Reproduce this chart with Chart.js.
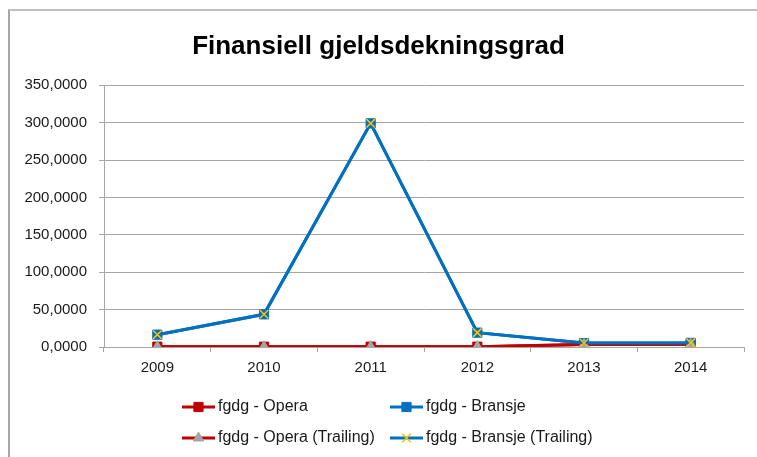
<!DOCTYPE html>
<html>
<head>
<meta charset="utf-8">
<script src="https://cdn.jsdelivr.net/npm/chart.js@4/dist/chart.umd.min.js"></script>
<style>
  html, body { margin: 0; padding: 0; background: #fff; }
  #wrap { position: relative; width: 757px; height: 457px; }
  #frame { position: absolute; left: 8px; top: 9px; width: 760px; height: 460px;
           border-left: 2px solid #a6a6a6; border-top: 2px solid #bfbfbf; }
  canvas { position: absolute; left: 0; top: 0; }
</style>
</head>
<body>
<div id="wrap">
  <div id="frame"></div>
  <canvas id="chart" width="757" height="457"></canvas>
</div>
<script>
let years = ['2009', '2010', '2011', '2012', '2013', '2014'];
let operaValues = [0.4, 0.4, 0.4, 0.4, 3.5, 3.8];
let bransjeValues = [16.5, 43.7, 299, 19.2, 5.3, 5.5];
let operaTrailing = [0.4, 0.4, 0.4, 0.4, 3.5, 3.8];
let bransjeTrailing = [16.5, 43.7, 299, 19.2, 5.3, 5.5];
let yTicks = [0, 50, 100, 150, 200, 250, 300, 350];

const red = '#c00000';
const blue = '#0070c0';
const font = 'Liberation Sans';
const textColor = '#1a1a1a';

// legend drawn on the canvas in two rows, like the original
const legendPlugin = {
  id: 'excelLegend',
  afterDraw(chart) {
    let ctx = chart.ctx;
    let spots = [[182, 407], [390, 407], [182, 438], [390, 438]];
    ctx.save();
    chart.data.datasets.forEach((ds, k) => {
      let x = spots[k][0], y = spots[k][1];
      ctx.strokeStyle = ds.borderColor;
      ctx.lineWidth = 3;
      ctx.beginPath();
      ctx.moveTo(x, y);
      ctx.lineTo(x + 33, y);
      ctx.stroke();
      ctx.fillStyle = ds.pointBackgroundColor;
      ctx.strokeStyle = ds.pointBorderColor;
      ctx.lineWidth = ds.pointBorderWidth;
      Chart.helpers.drawPoint(ctx, {
        pointStyle: ds.pointStyle,
        radius: ds.pointRadius,
        borderWidth: ds.pointBorderWidth,
        rotation: 0
      }, x + 16.5, y);
      ctx.fillStyle = textColor;
      ctx.font = '16px "' + font + '"';
      ctx.textBaseline = 'middle';
      ctx.textAlign = 'left';
      ctx.fillText(ds.label, x + 36, y);
    });
    ctx.restore();
  }
};

new Chart(document.getElementById('chart').getContext('2d'), {
  type: 'line',
  data: {
    labels: years,
    datasets: [
      {
        label: 'fgdg - Opera', data: operaValues, order: 4,
        borderColor: red, borderWidth: 3, tension: 0,
        pointStyle: 'rect', pointRadius: 6.5, pointBorderWidth: 1,
        pointBackgroundColor: red, pointBorderColor: red
      },
      {
        label: 'fgdg - Bransje', data: bransjeValues, order: 3,
        borderColor: blue, borderWidth: 3, tension: 0,
        pointStyle: 'rect', pointRadius: 6.5, pointBorderWidth: 1,
        pointBackgroundColor: blue, pointBorderColor: blue
      },
      {
        label: 'fgdg - Opera (Trailing)', data: operaTrailing, order: 2,
        borderColor: red, borderWidth: 3, tension: 0,
        pointStyle: 'triangle', pointRadius: 6, pointBorderWidth: 1,
        pointBackgroundColor: '#a5a5a5', pointBorderColor: '#a5a5a5'
      },
      {
        label: 'fgdg - Bransje (Trailing)', data: bransjeTrailing, order: 1,
        borderColor: blue, borderWidth: 3, tension: 0,
        pointStyle: 'crossRot', pointRadius: 6, pointBorderWidth: 1.5,
        pointBackgroundColor: '#ffc000', pointBorderColor: '#ffc000'
      }
    ]
  },
  options: {
    responsive: false,
    animation: false,
    layout: { padding: { left: 13, right: 13, top: 0, bottom: 70 } },
    plugins: {
      legend: { display: false },
      tooltip: { enabled: false },
      title: {
        display: true,
        text: 'Finansiell gjeldsdekningsgrad',
        color: '#000',
        font: { family: font, size: 26, weight: 'bold', lineHeight: 1.2 },
        padding: { top: 31, bottom: 23 }
      }
    },
    scales: {
      x: {
        offset: true,
        grid: { offset: true, drawOnChartArea: false, drawTicks: true, tickLength: 5, color: '#a6a6a6' },
        border: { display: true, color: '#a6a6a6' },
        ticks: { color: textColor, font: { family: font, size: 15 }, padding: 7, maxRotation: 0 },
        afterFit: s => { s.height = 40; }
      },
      y: {
        min: 0, max: 350,
        afterBuildTicks: s => { s.ticks = yTicks.map(v => ({ value: v })); },
        grid: { color: '#a6a6a6', tickLength: 5 },
        border: { display: true, color: '#a6a6a6' },
        ticks: {
          color: textColor, font: { family: font, size: 15 }, padding: 12,
          callback: v => v.toFixed(4).replace('.', ',')
        },
        afterFit: s => { s.width = 91; }
      }
    }
  },
  plugins: [legendPlugin]
});
</script>
</body>
</html>
